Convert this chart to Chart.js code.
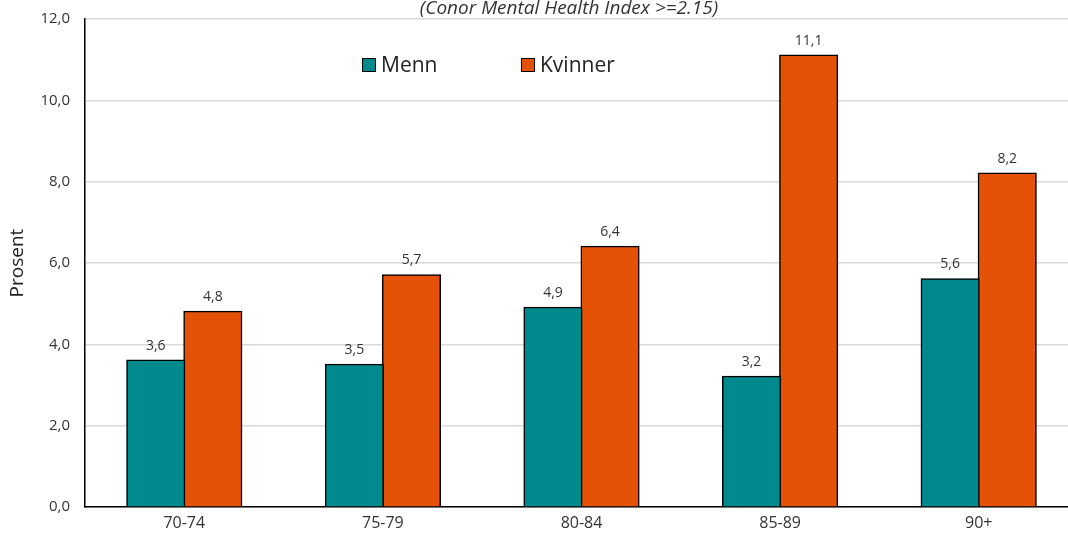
<!DOCTYPE html>
<html>
<head>
<meta charset="utf-8">
<script src="https://cdn.jsdelivr.net/npm/chart.js@4.4.1/dist/chart.umd.min.js"></script>
<style>
  html, body { margin: 0; padding: 0; background: #fff; overflow: hidden; }
  #wrap { position: relative; width: 1078px; height: 538px; }
</style>
</head>
<body>
<div id="wrap"><canvas id="c"></canvas></div>
<script>
const categories = ['70-74', '75-79', '80-84', '85-89', '90+'];
const menn = [3.6, 3.5, 4.9, 3.2, 5.6];
const kvinner = [4.8, 5.7, 6.4, 11.1, 8.2];
const yTicks = [0, 2, 4, 6, 8, 10, 12];
const subtitle = '(Conor Mental Health Index >=2.15)';
const yTitle = 'Prosent';

const FONT = "'Open Sans', 'Noto Sans', sans-serif";
const fmt = v => v.toFixed(1).replace('.', ',');

// Value labels above each bar
const valueLabels = {
  id: 'valueLabels',
  afterDatasetsDraw(chart) {
    const ctx = chart.ctx;
    ctx.save();
    ctx.font = `14px ${FONT}`;
    ctx.fillStyle = '#333';
    ctx.textAlign = 'center';
    ctx.textBaseline = 'bottom';
    chart.data.datasets.forEach((ds, i) => {
      chart.getDatasetMeta(i).data.forEach((bar, j) => {
        ctx.fillText(fmt(ds.data[j]), bar.x, bar.y - 8);
      });
    });
    ctx.restore();
  }
};

// Subtitle and in-plot legend
const decorations = {
  id: 'decorations',
  afterDraw(chart) {
    const ctx = chart.ctx;
    ctx.save();
    ctx.font = `italic 19px ${FONT}`;
    ctx.fillStyle = '#333';
    ctx.textAlign = 'center';
    ctx.textBaseline = 'alphabetic';
    ctx.fillText(subtitle, 569, 14);

    ctx.font = `21px ${FONT}`;
    ctx.textAlign = 'left';
    ctx.textBaseline = 'middle';
    const items = [[362, 0], [521, 1]];
    items.forEach(([x, i]) => {
      const ds = chart.data.datasets[i];
      ctx.fillStyle = ds.backgroundColor;
      ctx.fillRect(x, 58, 14, 14);
      ctx.strokeStyle = '#000';
      ctx.lineWidth = 1;
      ctx.strokeRect(x + 0.5, 58.5, 13, 13);
      ctx.fillStyle = '#222';
      ctx.fillText(ds.label, x + 19, 66);
    });
    ctx.restore();
  }
};

new Chart(document.getElementById('c'), {
  type: 'bar',
  data: {
    labels: categories,
    datasets: [
      { label: 'Menn', data: menn, backgroundColor: '#018A8E', borderColor: '#000', borderWidth: 1.5 },
      { label: 'Kvinner', data: kvinner, backgroundColor: '#E35206', borderColor: '#000', borderWidth: 1.5 }
    ]
  },
  options: {
    responsive: true,
    maintainAspectRatio: false,
    animation: false,
    layout: { padding: { top: 19, left: 0, right: 0, bottom: 0 } },
    datasets: { bar: { categoryPercentage: 0.575, barPercentage: 1, inflateAmount: 1 } },
    plugins: { legend: { display: false }, tooltip: { enabled: false } },
    scales: {
      x: {
        grid: { display: false, drawTicks: false },
        border: { color: '#000', width: 1.5 },
        ticks: { color: '#333', font: { family: FONT, size: 16 }, padding: 7 },
        afterFit(s) { s.height = 31; s.paddingLeft = 0; s.paddingRight = 0; }
      },
      y: {
        min: 0, max: 12,
        afterBuildTicks(s) { s.ticks = yTicks.map(v => ({ value: v })); },
        grid: { color: '#D9D9D9', lineWidth: 1.5, drawTicks: false },
        border: { color: '#000', width: 1.5 },
        ticks: { color: '#333', font: { family: FONT, size: 15 }, padding: 15, callback: v => fmt(v) },
        title: { display: true, text: yTitle, color: '#222', font: { family: FONT, size: 19 }, padding: { top: 6, bottom: 0 } },
        afterFit(s) { s.width = 85; s.paddingTop = 0; s.paddingBottom = 0; }
      }
    }
  },
  plugins: [valueLabels, decorations]
});
</script>
</body>
</html>
